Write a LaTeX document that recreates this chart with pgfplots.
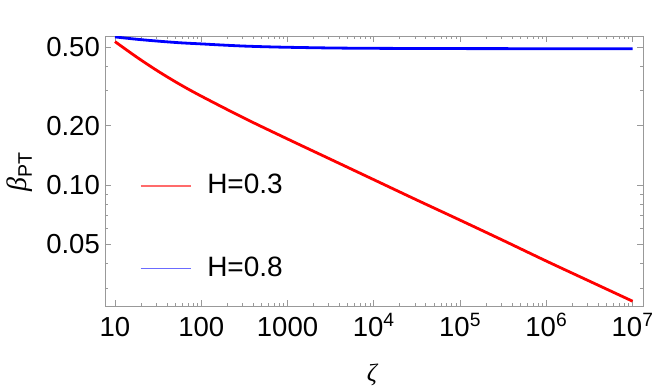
\documentclass[border=0pt]{standalone}
\usepackage{amsmath}
\usepackage{fontspec}
\setmainfont{Liberation Sans}
\newfontfamily\serifgreek{Liberation Serif}
\usepackage{pgfplots}
\pgfplotsset{compat=1.18}
\definecolor{framegray}{gray}{0.6}
\definecolor{legred}{rgb}{1,0.42,0.42}
\definecolor{legblue}{rgb}{0.42,0.42,1}
\pgfplotstableread{
x y
10 0.532
17.8 0.4446
31.6 0.3767
56.2 0.3236
100 0.2818
316 0.2178
1000 0.1710
3162 0.1349
10000 0.1064
31623 0.0839
100000 0.0664
316228 0.0524
1000000 0.0412
3162278 0.0326
10000000 0.0258
}\redtable
\pgfplotstableread{
x y
10 0.562
17.8 0.547
31.6 0.535
56.2 0.525
100 0.518
178 0.511
316 0.505
562 0.501
1000 0.498
3162 0.494
10000 0.492
100000 0.4905
1000000 0.490
10000000 0.490
}\bluetable
\begin{document}
\fontsize{28}{33}\selectfont
\begin{tikzpicture}
\begin{axis}[
  name=ax,
  scale only axis, width=538pt, height=270pt,
  xmode=log, ymode=log,
  xmin=7.66, xmax=1.32e7, ymin=0.0244, ymax=0.568,
  xtick={10,100,1000,1e4,1e5,1e6,1e7},
  xticklabels={10,100,1000,10$^{\text{4}}$,10$^{\text{5}}$,10$^{\text{6}}$,10$^{\text{7}}$},
  minor xtick={20,30,40,50,60,70,80,90,200,300,400,500,600,700,800,900,2000,3000,4000,5000,6000,7000,8000,9000,2e4,3e4,4e4,5e4,6e4,7e4,8e4,9e4,2e5,3e5,4e5,5e5,6e5,7e5,8e5,9e5,2e6,3e6,4e6,5e6,6e6,7e6,8e6,9e6},
  ytick={0.05,0.1,0.2,0.5},
  yticklabels={0.05,0.10,0.20,0.50},
  minor ytick={0.03,0.04,0.06,0.07,0.08,0.09,0.3,0.4},
  axis line style={framegray, line width=0.9pt},
  every tick/.style={framegray, line width=0.7pt},
  major tick length=6pt, minor tick length=3.5pt,
  tick align=inside,
  tick label style={font=\fontsize{27.5}{33}\selectfont, text=black},
  xticklabel style={anchor=base, inner sep=0pt, yshift=-30pt},
  yticklabel style={anchor=east, inner sep=0pt, xshift=-5pt},
  xlabel={{\fontsize{25}{30}\selectfont\serifgreek\itshape ζ}},
  xlabel style={at={(rel axis cs:0.496,-0.256)}, anchor=center, inner sep=0pt},
  ylabel={{\fontsize{28}{33}\selectfont\serifgreek\itshape β}\textsubscript{PT}},
  ylabel style={at={(rel axis cs:-0.158,0.496)}, anchor=center, inner sep=0pt},
  legend style={draw=none, fill=none, at={(rel axis cs:0.065,0.448)}, anchor=north west,
    row sep=59pt, inner sep=0pt, outer sep=0pt, yshift=11pt,
    /tikz/every odd column/.append style={column sep=16pt},
    nodes={inner sep=0pt, anchor=west, text=black, font=\fontsize{28}{33}\selectfont}},
  legend cell align=left,
  legend image code/.code={\draw[#1, line width=1.3pt] (0pt,0pt) -- (50pt,0pt);},
]
\addplot[red, line width=2.8pt, smooth, forget plot] table[x=x, y=y] {\redtable};
\addplot[blue, line width=2.8pt, smooth, forget plot] table[x=x, y=y] {\bluetable};
\addlegendimage{legred}
\addlegendentry{H=0.3}
\addlegendimage{legblue}
\addlegendentry{H=0.8}
\end{axis}
\pgfresetboundingbox
\path[use as bounding box] (ax.south west) ++(-105pt,-83pt) rectangle ++(654pt,389pt);
\end{tikzpicture}
\end{document}
